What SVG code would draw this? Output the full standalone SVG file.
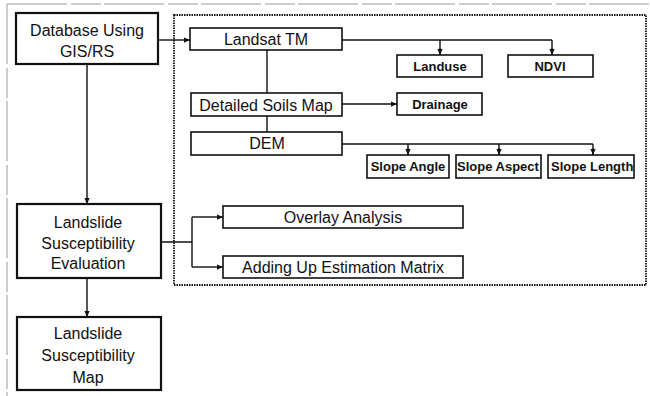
<svg xmlns="http://www.w3.org/2000/svg" width="650" height="396" viewBox="0 0 650 396">
<defs>
<style>
text{font-family:"Liberation Sans",Arial,sans-serif;fill:#111;text-anchor:middle;dominant-baseline:central}
.t{font-size:16px}
.b{font-size:13px;font-weight:bold}
.main{fill:#fff;stroke:#111;stroke-width:2.2}
.box{fill:#fff;stroke:#111;stroke-width:1.6}
.ln{fill:none;stroke:#111;stroke-width:1.4}
.frame{fill:none;stroke:#999;stroke-width:1}
</style>
<marker id="ah" viewBox="0 0 8 8" refX="8" refY="4" markerWidth="6" markerHeight="6" orient="auto" markerUnits="userSpaceOnUse">
<path d="M0,0.5 L8,4 L0,7.5 z" fill="#111"/>
</marker>
</defs>
<g id="frame">
<path class="frame" d="M7,4 H650 M7,4 V396" stroke-dasharray="60 4 30 3"/>
<rect x="174" y="15" width="472" height="270" fill="none" stroke="#111" stroke-width="1.8" stroke-dasharray="1.5 1"/>
</g>
<g id="connectors">
<path class="ln" d="M158,40 H190" marker-end="url(#ah)"/>
<path class="ln" d="M342,40 H552 M440,40 V55 M552,40 V55"/>
<path class="ln" d="M440,48 V55" marker-end="url(#ah)"/>
<path class="ln" d="M552,48 V55" marker-end="url(#ah)"/>
<path class="ln" d="M267,50 V93"/>
<path class="ln" d="M342,104 H397" marker-end="url(#ah)"/>
<path class="ln" d="M267,116 V132"/>
<path class="ln" d="M342,144 H593 M408,144 V155 M499,144 V155 M593,144 V155"/>
<path class="ln" d="M408,148 V155" marker-end="url(#ah)"/>
<path class="ln" d="M499,148 V155" marker-end="url(#ah)"/>
<path class="ln" d="M593,148 V155" marker-end="url(#ah)"/>
<path class="ln" d="M87,64 V204" marker-end="url(#ah)"/>
<path class="ln" d="M87,278 V317" marker-end="url(#ah)"/>
<path class="ln" d="M161,242 H192 M192,217 V267"/>
<path class="ln" d="M192,217 H223" marker-end="url(#ah)"/>
<path class="ln" d="M192,267 H223" marker-end="url(#ah)"/>
</g>
<g id="database"><rect class="main" x="16" y="13" width="142" height="51"/><text class="t" x="87" y="30">Database Using</text><text class="t" x="87" y="51">GIS/RS</text></g>
<g id="landsat"><rect class="box" x="190" y="28" width="152" height="22"/><text class="t" x="266" y="39.5">Landsat TM</text></g>
<g id="landuse"><rect class="box" x="397" y="55" width="85" height="22"/><text class="b" x="440" y="66">Landuse</text></g>
<g id="ndvi"><rect class="box" x="508" y="55" width="85" height="22"/><text class="b" x="550" y="66">NDVI</text></g>
<g id="soils"><rect class="box" x="191" y="93" width="151" height="23"/><text class="t" x="266" y="105">Detailed Soils Map</text></g>
<g id="drainage"><rect class="box" x="397" y="93" width="85" height="22"/><text class="b" x="440" y="104">Drainage</text></g>
<g id="dem"><rect class="box" x="191" y="132" width="151" height="23"/><text class="t" x="267" y="143">DEM</text></g>
<g id="slopeangle"><rect class="box" x="367" y="155" width="82" height="23"/><text class="b" x="408" y="166">Slope Angle</text></g>
<g id="slopeaspect"><rect class="box" x="456" y="155" width="85" height="23"/><text class="b" x="457" y="166" style="text-anchor:start">Slope Aspect</text></g>
<g id="slopelength"><rect class="box" x="548" y="155" width="86" height="23"/><text class="b" x="551" y="166" style="text-anchor:start">Slope Length</text></g>
<g id="overlay"><rect class="box" x="223" y="206" width="240" height="22"/><text class="t" x="343" y="217">Overlay Analysis</text></g>
<g id="adding"><rect class="box" x="223" y="256" width="240" height="22"/><text class="t" x="343" y="267">Adding Up Estimation Matrix</text></g>
<g id="evaluation"><rect class="main" x="17" y="204" width="144" height="74"/><text class="t" x="88" y="222">Landslide</text><text class="t" x="88" y="243">Susceptibility</text><text class="t" x="88" y="263">Evaluation</text></g>
<g id="map"><rect class="main" x="17" y="317" width="144" height="73"/><text class="t" x="88" y="333">Landslide</text><text class="t" x="88" y="355">Susceptibility</text><text class="t" x="88" y="377">Map</text></g>
</svg>
